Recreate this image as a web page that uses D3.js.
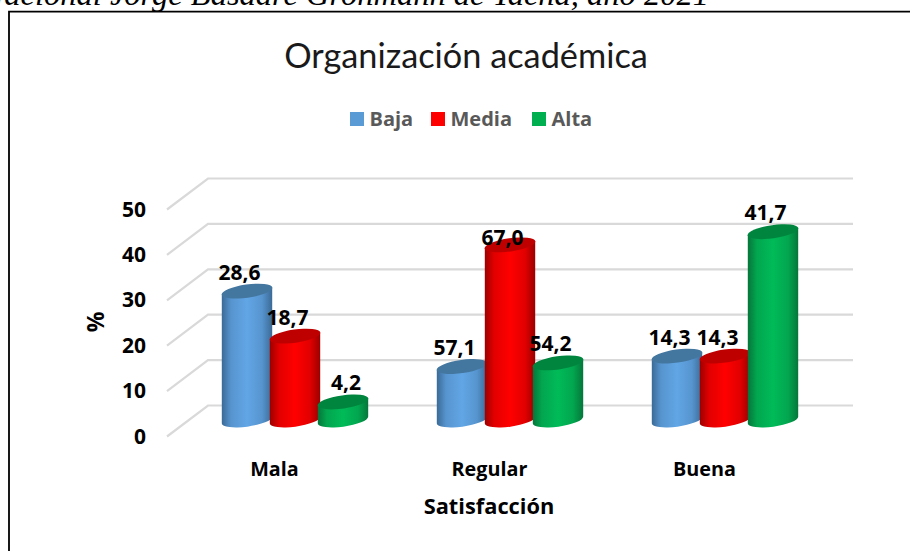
<!DOCTYPE html>
<html><head><meta charset="utf-8">
<script src="https://cdn.jsdelivr.net/npm/d3@7/dist/d3.min.js"></script>
<style>html,body{margin:0;padding:0;background:#fff;overflow:hidden}svg{display:block}text{font-family:"Open Sans",Lato,sans-serif}</style>
</head><body><svg id="c" width="910" height="551"></svg>
<script>
const categories = ["Mala","Regular","Buena"];
const seriesNames = ["Baja","Media","Alta"];
// drawn heights
const bajaHeights = [28.6, 12.0, 14.3];
const mediaHeights = [18.7, 38.8, 14.3];
const altaHeights = [4.2, 12.8, 41.7];
// printed data labels (differ from drawn height in the original)
const bajaLabels = ["28,6","57,1","14,3"];
const mediaLabels = ["18,7","67,0","14,3"];
const altaLabels = ["4,2","54,2","41,7"];
const yTicks = [0,10,20,30,40,50];
const captionText = "Nacional Jorge Basadre Grohmann de Tacna, año 2021";
const titleText = "Organización académica";
const xTitle = "Satisfacción";
const yTitle = "%";

const palette = {
  Baja:{edge:"#3b6a96",mid:"#62a6e6",top:"#44779f",key:"#5b9bd5"},
  Media:{edge:"#9c0000",mid:"#ff0000",top:"#bf0000",key:"#ff0000"},
  Alta:{edge:"#05763a",mid:"#00bb58",top:"#00853f",key:"#00b050"}
};
const svg = d3.select("#c");
const W=910,H=551;
const dx=41, dy=-31;               // depth offset of back wall
const y = d3.scaleLinear().domain([0,50]).range([436.5,209.5]);
const x = d3.scaleBand().domain(categories).range([167,812]);
const bx = d3.scaleBand().domain(seriesNames).range([0,144]);

// frame + cropped caption
svg.append("text").attr("x",709).attr("y",4.5).attr("text-anchor","end").attr("font-size",32.5)
  .style("font-family","'Liberation Serif',serif").style("font-style","italic").attr("fill","#000").text(captionText);
svg.append("path").attr("d",`M${W},11.7H9V${H}`).attr("fill","none").attr("stroke","#000").attr("stroke-width",1.8);

// title
svg.append("text").attr("x",466).attr("y",68).attr("text-anchor","middle").style("font-family","Lato").attr("font-size",34.3).attr("fill","#1a1a1a").text(titleText);

// legend
const legendX = d3.scaleOrdinal().domain(seriesNames).range([350,431,532]);
const lg = svg.selectAll("g.lg").data(seriesNames).join("g").attr("class","lg");
lg.append("rect").attr("x",d=>legendX(d)).attr("y",112).attr("width",14).attr("height",14).attr("fill",d=>palette[d].key);
lg.append("text").attr("x",d=>legendX(d)+19.5).attr("y",125.5).attr("font-size",20).attr("font-weight",700).attr("fill","#595959").text(d=>d);

// gridlines
svg.append("g").selectAll("path").data(yTicks).join("path")
  .attr("d",t=>`M167,${y(t)}L${167+dx},${y(t)+dy}H853`)
  .attr("fill","none").attr("stroke","#d9d9d9").attr("stroke-width",2.2);

// y axis labels
svg.append("g").selectAll("text").data(yTicks).join("text")
  .attr("x",146).attr("y",t=>y(t)+7).attr("text-anchor","end").attr("font-size",21).attr("font-weight",700).attr("fill","#000").text(t=>t);

// gradients
const defs = svg.append("defs");
seriesNames.forEach(s=>{
  const g=defs.append("linearGradient").attr("id","g"+s).attr("x1",0).attr("x2",1).attr("y1",0).attr("y2",0);
  [[0,palette[s].edge],[0.18,d3.interpolateRgb(palette[s].edge,palette[s].mid)(0.7)],[0.5,palette[s].mid],[0.8,d3.interpolateRgb(palette[s].edge,palette[s].mid)(0.7)],[1,palette[s].edge]]
   .forEach(([o,c])=>g.append("stop").attr("offset",o).attr("stop-color",c));
});

// cylinders
const heights={Baja:bajaHeights,Media:mediaHeights,Alta:altaHeights};
const labels={Baja:bajaLabels,Media:mediaLabels,Alta:altaLabels};
const rx=25.2, ry=6.6, rot=-8, tilt=3.4;
const baseOff=-15.5, xOff=20.5;
const bars=[];
categories.forEach((c,i)=>seriesNames.forEach(s=>bars.push({c,s,h:heights[s][i],l:labels[s][i]})));
const cx=d=>x(d.c)+x.bandwidth()/2+xOff-72+bx(d.s)+bx.bandwidth()/2;
const barG=svg.append("g");
bars.forEach(d=>{
  const g=barG.append("g");
  const X=cx(d), b=y(0)+baseOff-1, t=y(d.h)+baseOff;
  g.append("path").attr("fill",`url(#g${d.s})`)
   .attr("d",`M${X-rx},${t+tilt}L${X-rx},${b+tilt}A${rx},${ry} ${rot} 0 0 ${X+rx},${b-tilt}L${X+rx},${t-tilt}Z`);
  g.append("ellipse").attr("transform",`translate(${X},${t}) rotate(${rot})`).attr("rx",rx+0.4).attr("ry",ry).attr("fill",palette[d.s].top);
});
// data labels (two were hand-moved in the original)
const nudgeX=d=>d.l==="4,2"?10.5:0;
const nudgeY=d=>d.l==="67,0"?12:0;
svg.append("g").selectAll("text").data(bars).join("text")
  .attr("x",d=>cx(d)-7.5+nudgeX(d)).attr("y",d=>y(d.h)+baseOff-11.5+nudgeY(d)).attr("text-anchor","middle")
  .attr("font-size",21).attr("font-weight",700).attr("fill","#000").text(d=>d.l);

// category labels
svg.append("g").selectAll("text").data(categories).join("text")
  .attr("x",d=>x(d)+x.bandwidth()/2).attr("y",476).attr("text-anchor","middle")
  .attr("font-size",19.8).attr("font-weight",700).attr("fill","#000").text(d=>d);
svg.append("text").attr("x",489).attr("y",514).attr("text-anchor","middle").attr("font-size",21.8).attr("font-weight",700).attr("fill","#000").text(xTitle);
svg.append("text").attr("transform","translate(104,322) rotate(-90)").attr("text-anchor","middle").attr("font-size",23).attr("font-weight",700).attr("fill","#000").text(yTitle);
</script></body></html>
